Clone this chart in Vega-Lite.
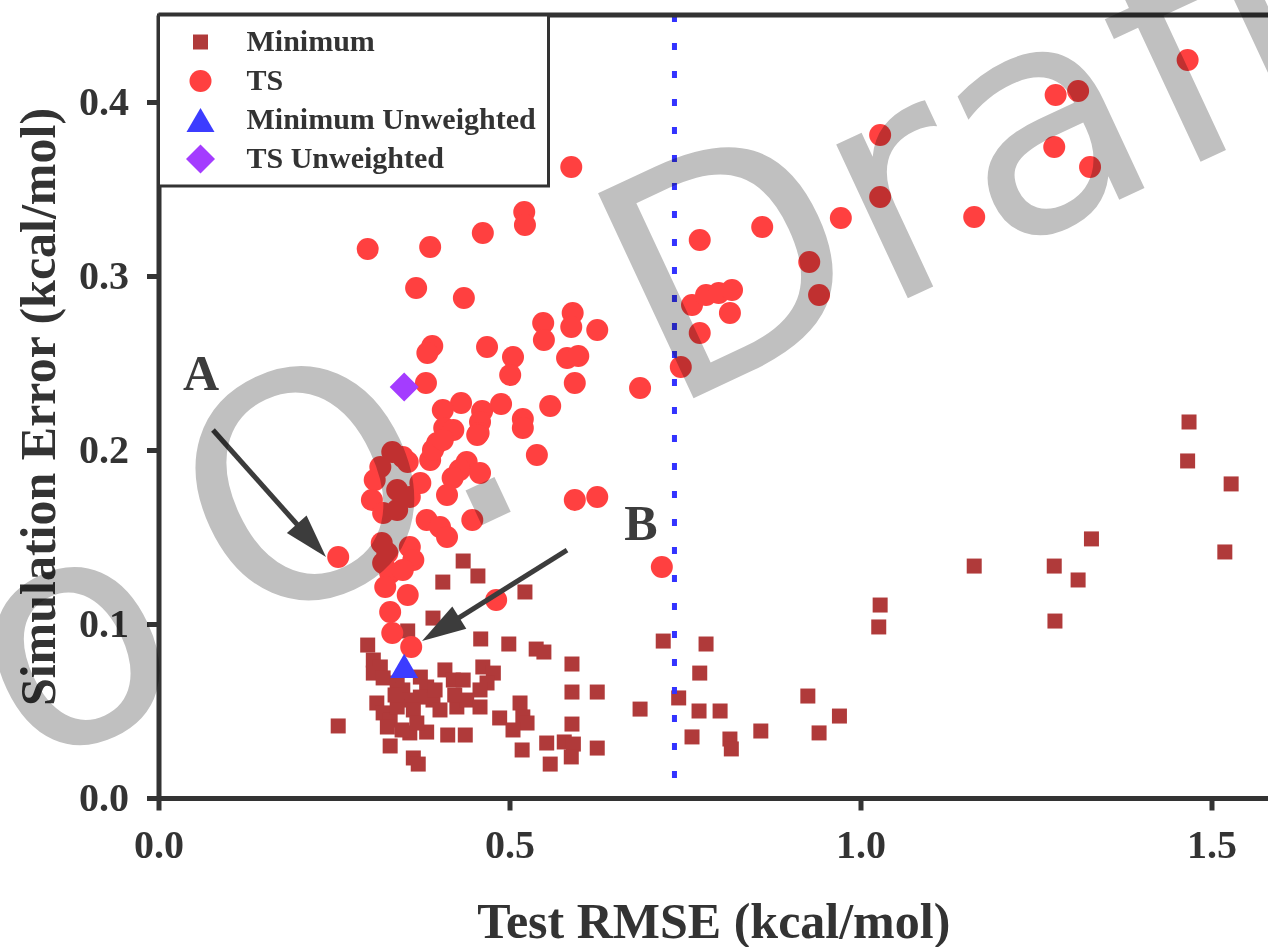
{
  "$schema": "https://vega.github.io/schema/vega-lite/v6.json",
  "width": 1109.5,
  "height": 783,
  "autosize": {"type": "none"},
  "padding": {"left": 158.5, "top": 15, "right": 0, "bottom": 149},
  "background": "white",
  "config": {
    "view": {"stroke": null},
    "font": "Liberation Serif",
    "legend": {
      "title": null,
      "orient": "top-left",
      "offset": 0,
      "padding": 12,
      "symbolOffset": 15,
      "labelOffset": 31,
      "rowPadding": 9,
      "labelLimit": 0,
      "labelFont": "Liberation Serif",
      "labelFontWeight": "bold",
      "labelFontSize": 30,
      "labelColor": "#333333",
      "strokeColor": "#333333",
      "fillColor": "white",
      "symbolStrokeWidth": 0,
      "symbolOpacity": 1
    }
  },
  "datasets": {
    "pts": [
      {"type": "Minimum", "x": 0.434, "y": 0.1362},
      {"type": "Minimum", "x": 0.455, "y": 0.1276},
      {"type": "Minimum", "x": 0.405, "y": 0.1241},
      {"type": "Minimum", "x": 0.522, "y": 0.1184},
      {"type": "Minimum", "x": 0.391, "y": 0.1034},
      {"type": "Minimum", "x": 0.355, "y": 0.096},
      {"type": "Minimum", "x": 0.298, "y": 0.0879},
      {"type": "Minimum", "x": 0.459, "y": 0.0914},
      {"type": "Minimum", "x": 0.499, "y": 0.0885},
      {"type": "Minimum", "x": 0.538, "y": 0.0856},
      {"type": "Minimum", "x": 0.549, "y": 0.0839},
      {"type": "Minimum", "x": 0.589, "y": 0.077},
      {"type": "Minimum", "x": 0.306, "y": 0.0793},
      {"type": "Minimum", "x": 0.316, "y": 0.0753},
      {"type": "Minimum", "x": 0.306, "y": 0.0718},
      {"type": "Minimum", "x": 0.32, "y": 0.069},
      {"type": "Minimum", "x": 0.34, "y": 0.0661},
      {"type": "Minimum", "x": 0.348, "y": 0.0621},
      {"type": "Minimum", "x": 0.373, "y": 0.0695},
      {"type": "Minimum", "x": 0.382, "y": 0.0638},
      {"type": "Minimum", "x": 0.408, "y": 0.0736},
      {"type": "Minimum", "x": 0.42, "y": 0.0678},
      {"type": "Minimum", "x": 0.434, "y": 0.0678},
      {"type": "Minimum", "x": 0.462, "y": 0.0753},
      {"type": "Minimum", "x": 0.477, "y": 0.0718},
      {"type": "Minimum", "x": 0.468, "y": 0.0661},
      {"type": "Minimum", "x": 0.458, "y": 0.0621},
      {"type": "Minimum", "x": 0.354, "y": 0.0563},
      {"type": "Minimum", "x": 0.373, "y": 0.058},
      {"type": "Minimum", "x": 0.391, "y": 0.0563},
      {"type": "Minimum", "x": 0.311, "y": 0.0546},
      {"type": "Minimum", "x": 0.32, "y": 0.0489},
      {"type": "Minimum", "x": 0.33, "y": 0.0448},
      {"type": "Minimum", "x": 0.34, "y": 0.0523},
      {"type": "Minimum", "x": 0.363, "y": 0.0506},
      {"type": "Minimum", "x": 0.401, "y": 0.0506},
      {"type": "Minimum", "x": 0.425, "y": 0.0523},
      {"type": "Minimum", "x": 0.439, "y": 0.0563},
      {"type": "Minimum", "x": 0.458, "y": 0.0523},
      {"type": "Minimum", "x": 0.358, "y": 0.0374},
      {"type": "Minimum", "x": 0.382, "y": 0.0379},
      {"type": "Minimum", "x": 0.368, "y": 0.0431},
      {"type": "Minimum", "x": 0.412, "y": 0.0362},
      {"type": "Minimum", "x": 0.437, "y": 0.0362},
      {"type": "Minimum", "x": 0.486, "y": 0.046},
      {"type": "Minimum", "x": 0.515, "y": 0.0546},
      {"type": "Minimum", "x": 0.519, "y": 0.0466},
      {"type": "Minimum", "x": 0.525, "y": 0.0431},
      {"type": "Minimum", "x": 0.505, "y": 0.0391},
      {"type": "Minimum", "x": 0.589, "y": 0.0609},
      {"type": "Minimum", "x": 0.625, "y": 0.0609},
      {"type": "Minimum", "x": 0.589, "y": 0.0425},
      {"type": "Minimum", "x": 0.686, "y": 0.0511},
      {"type": "Minimum", "x": 0.256, "y": 0.0414},
      {"type": "Minimum", "x": 0.33, "y": 0.0299},
      {"type": "Minimum", "x": 0.363, "y": 0.023},
      {"type": "Minimum", "x": 0.37, "y": 0.0195},
      {"type": "Minimum", "x": 0.518, "y": 0.0276},
      {"type": "Minimum", "x": 0.553, "y": 0.0316},
      {"type": "Minimum", "x": 0.578, "y": 0.0322},
      {"type": "Minimum", "x": 0.591, "y": 0.031},
      {"type": "Minimum", "x": 0.588, "y": 0.0236},
      {"type": "Minimum", "x": 0.558, "y": 0.0195},
      {"type": "Minimum", "x": 0.625, "y": 0.0287},
      {"type": "Minimum", "x": 0.326, "y": 0.0408},
      {"type": "Minimum", "x": 0.347, "y": 0.0391},
      {"type": "Minimum", "x": 0.394, "y": 0.0621},
      {"type": "Minimum", "x": 0.422, "y": 0.0592},
      {"type": "Minimum", "x": 0.337, "y": 0.0592},
      {"type": "Minimum", "x": 0.719, "y": 0.0902},
      {"type": "Minimum", "x": 0.78, "y": 0.0885},
      {"type": "Minimum", "x": 0.771, "y": 0.0718},
      {"type": "Minimum", "x": 0.741, "y": 0.0575},
      {"type": "Minimum", "x": 0.77, "y": 0.05},
      {"type": "Minimum", "x": 0.8, "y": 0.05},
      {"type": "Minimum", "x": 0.76, "y": 0.0351},
      {"type": "Minimum", "x": 0.814, "y": 0.0339},
      {"type": "Minimum", "x": 0.816, "y": 0.0282},
      {"type": "Minimum", "x": 0.858, "y": 0.0385},
      {"type": "Minimum", "x": 0.925, "y": 0.0586},
      {"type": "Minimum", "x": 0.941, "y": 0.0374},
      {"type": "Minimum", "x": 0.97, "y": 0.0471},
      {"type": "Minimum", "x": 1.028, "y": 0.1109},
      {"type": "Minimum", "x": 1.026, "y": 0.0983},
      {"type": "Minimum", "x": 1.162, "y": 0.1333},
      {"type": "Minimum", "x": 1.276, "y": 0.1333},
      {"type": "Minimum", "x": 1.31, "y": 0.1253},
      {"type": "Minimum", "x": 1.277, "y": 0.1017},
      {"type": "Minimum", "x": 1.329, "y": 0.1489},
      {"type": "Minimum", "x": 1.468, "y": 0.2161},
      {"type": "Minimum", "x": 1.466, "y": 0.1937},
      {"type": "Minimum", "x": 1.528, "y": 0.1805},
      {"type": "Minimum", "x": 1.519, "y": 0.1414},
      {"type": "TS", "x": 0.298, "y": 0.3155},
      {"type": "TS", "x": 0.387, "y": 0.3167},
      {"type": "TS", "x": 0.462, "y": 0.3247},
      {"type": "TS", "x": 0.521, "y": 0.3368},
      {"type": "TS", "x": 0.522, "y": 0.3293},
      {"type": "TS", "x": 0.588, "y": 0.3626},
      {"type": "TS", "x": 0.367, "y": 0.2931},
      {"type": "TS", "x": 0.435, "y": 0.2874},
      {"type": "TS", "x": 0.39, "y": 0.2598},
      {"type": "TS", "x": 0.383, "y": 0.2557},
      {"type": "TS", "x": 0.468, "y": 0.2592},
      {"type": "TS", "x": 0.505, "y": 0.2534},
      {"type": "TS", "x": 0.501, "y": 0.2431},
      {"type": "TS", "x": 0.548, "y": 0.273},
      {"type": "TS", "x": 0.549, "y": 0.2632},
      {"type": "TS", "x": 0.59, "y": 0.2787},
      {"type": "TS", "x": 0.588, "y": 0.2707},
      {"type": "TS", "x": 0.625, "y": 0.269},
      {"type": "TS", "x": 0.582, "y": 0.2529},
      {"type": "TS", "x": 0.598, "y": 0.254},
      {"type": "TS", "x": 0.593, "y": 0.2385},
      {"type": "TS", "x": 0.686, "y": 0.2356},
      {"type": "TS", "x": 0.381, "y": 0.2385},
      {"type": "TS", "x": 0.431, "y": 0.227},
      {"type": "TS", "x": 0.405, "y": 0.223},
      {"type": "TS", "x": 0.461, "y": 0.2224},
      {"type": "TS", "x": 0.458, "y": 0.2161},
      {"type": "TS", "x": 0.456, "y": 0.2098},
      {"type": "TS", "x": 0.488, "y": 0.2264},
      {"type": "TS", "x": 0.519, "y": 0.2178},
      {"type": "TS", "x": 0.519, "y": 0.2126},
      {"type": "TS", "x": 0.558, "y": 0.2253},
      {"type": "TS", "x": 0.539, "y": 0.1971},
      {"type": "TS", "x": 0.407, "y": 0.2126},
      {"type": "TS", "x": 0.42, "y": 0.2115},
      {"type": "TS", "x": 0.397, "y": 0.204},
      {"type": "TS", "x": 0.439, "y": 0.1931},
      {"type": "TS", "x": 0.429, "y": 0.1885},
      {"type": "TS", "x": 0.419, "y": 0.1839},
      {"type": "TS", "x": 0.411, "y": 0.1741},
      {"type": "TS", "x": 0.447, "y": 0.1598},
      {"type": "TS", "x": 0.333, "y": 0.1989},
      {"type": "TS", "x": 0.355, "y": 0.1931},
      {"type": "TS", "x": 0.348, "y": 0.196},
      {"type": "TS", "x": 0.316, "y": 0.1902},
      {"type": "TS", "x": 0.308, "y": 0.1828},
      {"type": "TS", "x": 0.304, "y": 0.1713},
      {"type": "TS", "x": 0.34, "y": 0.177},
      {"type": "TS", "x": 0.358, "y": 0.173},
      {"type": "TS", "x": 0.34, "y": 0.1655},
      {"type": "TS", "x": 0.373, "y": 0.181},
      {"type": "TS", "x": 0.32, "y": 0.1638},
      {"type": "TS", "x": 0.387, "y": 0.1943},
      {"type": "TS", "x": 0.391, "y": 0.2},
      {"type": "TS", "x": 0.405, "y": 0.2057},
      {"type": "TS", "x": 0.454, "y": 0.2086},
      {"type": "TS", "x": 0.458, "y": 0.1868},
      {"type": "TS", "x": 0.382, "y": 0.1598},
      {"type": "TS", "x": 0.401, "y": 0.1557},
      {"type": "TS", "x": 0.411, "y": 0.15},
      {"type": "TS", "x": 0.318, "y": 0.1466},
      {"type": "TS", "x": 0.326, "y": 0.1408},
      {"type": "TS", "x": 0.32, "y": 0.1351},
      {"type": "TS", "x": 0.33, "y": 0.1293},
      {"type": "TS", "x": 0.358, "y": 0.1443},
      {"type": "TS", "x": 0.363, "y": 0.1368},
      {"type": "TS", "x": 0.348, "y": 0.131},
      {"type": "TS", "x": 0.256, "y": 0.1385},
      {"type": "TS", "x": 0.323, "y": 0.1213},
      {"type": "TS", "x": 0.355, "y": 0.1167},
      {"type": "TS", "x": 0.33, "y": 0.1069},
      {"type": "TS", "x": 0.333, "y": 0.0948},
      {"type": "TS", "x": 0.36, "y": 0.0868},
      {"type": "TS", "x": 0.481, "y": 0.1138},
      {"type": "TS", "x": 0.593, "y": 0.1713},
      {"type": "TS", "x": 0.625, "y": 0.173},
      {"type": "TS", "x": 0.717, "y": 0.1328},
      {"type": "TS", "x": 0.744, "y": 0.2477},
      {"type": "TS", "x": 0.771, "y": 0.2672},
      {"type": "TS", "x": 0.76, "y": 0.2833},
      {"type": "TS", "x": 0.78, "y": 0.2891},
      {"type": "TS", "x": 0.798, "y": 0.2902},
      {"type": "TS", "x": 0.817, "y": 0.292},
      {"type": "TS", "x": 0.814, "y": 0.2787},
      {"type": "TS", "x": 0.771, "y": 0.3207},
      {"type": "TS", "x": 0.86, "y": 0.3282},
      {"type": "TS", "x": 0.927, "y": 0.308},
      {"type": "TS", "x": 0.941, "y": 0.2891},
      {"type": "TS", "x": 0.972, "y": 0.3333},
      {"type": "TS", "x": 1.028, "y": 0.381},
      {"type": "TS", "x": 1.028, "y": 0.3454},
      {"type": "TS", "x": 1.162, "y": 0.3339},
      {"type": "TS", "x": 1.278, "y": 0.404},
      {"type": "TS", "x": 1.31, "y": 0.4063},
      {"type": "TS", "x": 1.276, "y": 0.3741},
      {"type": "TS", "x": 1.327, "y": 0.3626},
      {"type": "TS", "x": 1.466, "y": 0.4241},
      {"type": "Minimum Unweighted", "x": 0.35, "y": 0.0759},
      {"type": "TS Unweighted", "x": 0.35, "y": 0.2362}
    ],
    "arrows": [
      {"label": "A", "x_tail": 0.0776, "y_tail": 0.2115, "x_end": 0.215, "y_end": 0.1493, "x_tip": 0.2386, "y_tip": 0.1385},
      {"label": "B", "x_tail": 0.5819, "y_tail": 0.1425, "x_end": 0.4056, "y_end": 0.0979, "x_tip": 0.3754, "y_tip": 0.0902}
    ],
    "labels": [
      {"text": "A", "x": 0.0605, "y": 0.2431},
      {"text": "B", "x": 0.6873, "y": 0.1569}
    ],
    "watermark": [
      {"text": "o", "x": -0.1873, "y": 0.0144},
      {"text": "O.", "x": 0.1189, "y": 0.0925},
      {"text": "Draft", "x": 0.7229, "y": 0.2224}
    ]
  },
  "layer": [
    {
      "data": {"name": "pts"},
      "mark": {"type": "point", "filled": true, "opacity": 1, "strokeWidth": 0},
      "encoding": {
        "x": {
          "field": "x", "type": "quantitative", "title": "Test RMSE (kcal/mol)",
          "scale": {"domain": [0, 1.5805], "nice": false, "zero": false},
          "axis": {
            "values": [0, 0.5, 1, 1.5], "format": ".1f",
            "grid": false, "domainColor": "#333333", "domainWidth": 5,
            "tickColor": "#333333", "tickWidth": 5, "tickSize": 12,
            "labelFont": "Liberation Serif", "labelFontWeight": "bold", "labelFontSize": 40,
            "labelColor": "#333333", "labelPadding": 15, "labelFlush": false, "labelOverlap": false,
            "titleFont": "Liberation Serif", "titleFontWeight": "bold", "titleFontSize": 50,
            "titleColor": "#333333", "titleY": 139, "titleBaseline": "alphabetic"
          }
        },
        "y": {
          "field": "y", "type": "quantitative", "title": "Simulation Error (kcal/mol)",
          "scale": {"domain": [0, 0.45], "nice": false, "zero": false},
          "axis": {
            "values": [0, 0.1, 0.2, 0.3, 0.4], "format": ".1f",
            "grid": false, "domainColor": "#333333", "domainWidth": 5,
            "tickColor": "#333333", "tickWidth": 5, "tickSize": 12,
            "labelFont": "Liberation Serif", "labelFontWeight": "bold", "labelFontSize": 40,
            "labelColor": "#333333", "labelPadding": 18, "labelFlush": false, "labelOverlap": false,
            "titleFont": "Liberation Serif", "titleFontWeight": "bold", "titleFontSize": 50,
            "titleColor": "#333333", "titleX": -104.5, "titleY": 391.5,
            "titleBaseline": "alphabetic", "titleAlign": "center", "titleAngle": -90
          }
        },
        "color": {
          "field": "type", "type": "nominal",
          "scale": {"domain": ["Minimum", "TS", "Minimum Unweighted", "TS Unweighted"],
                    "range": ["#b03a3a", "#ff4040", "#3c3cff", "#a43cff"]},
          "legend": {"title": null, "encode": {"legend": {"update": {"strokeWidth": {"value": 3}}}}}
        },
        "shape": {
          "field": "type", "type": "nominal",
          "scale": {"domain": ["Minimum", "TS", "Minimum Unweighted", "TS Unweighted"],
                    "range": ["square", "circle", "triangle-up", "diamond"]},
          "legend": {"title": null}
        },
        "size": {
          "field": "type", "type": "nominal",
          "scale": {"type": "ordinal", "domain": ["Minimum", "TS", "Minimum Unweighted", "TS Unweighted"],
                    "range": [225, 484, 784, 841]},
          "legend": {"title": null}
        }
      }
    },
    {
      "data": {"values": [{"x": 0.735}]},
      "mark": {"type": "rule", "color": "#3333ff", "strokeWidth": 5, "strokeDash": [7, 21]},
      "encoding": {"x": {"field": "x", "type": "quantitative", "title": "Test RMSE (kcal/mol)"}}
    },
    {
      "data": {"values": [{"y": 0.45}]},
      "mark": {"type": "rule", "color": "#333333", "strokeWidth": 5},
      "encoding": {"y": {"field": "y", "type": "quantitative", "title": "Simulation Error (kcal/mol)"}}
    },
    {
      "data": {"name": "arrows"},
      "mark": {"type": "rule", "color": "#3c3c3c", "strokeWidth": 5, "strokeCap": "butt"},
      "encoding": {
        "x": {"field": "x_tail", "type": "quantitative", "title": "Test RMSE (kcal/mol)"},
        "y": {"field": "y_tail", "type": "quantitative", "title": "Simulation Error (kcal/mol)"},
        "x2": {"field": "x_end"},
        "y2": {"field": "y_end"}
      }
    },
    {
      "data": {"name": "arrows"},
      "transform": [{"filter": "datum.label === 'A'"}],
      "mark": {"type": "point", "shape": "M0,0L-0.3,1L0.3,1Z", "size": 7744, "angle": 138.3, "filled": true, "opacity": 1, "color": "#3c3c3c", "strokeWidth": 0},
      "encoding": {
        "x": {"field": "x_tip", "type": "quantitative", "title": "Test RMSE (kcal/mol)"},
        "y": {"field": "y_tip", "type": "quantitative", "title": "Simulation Error (kcal/mol)"}
      }
    },
    {
      "data": {"name": "arrows"},
      "transform": [{"filter": "datum.label === 'B'"}],
      "mark": {"type": "point", "shape": "M0,0L-0.3,1L0.3,1Z", "size": 7744, "angle": 237.9, "filled": true, "opacity": 1, "color": "#3c3c3c", "strokeWidth": 0},
      "encoding": {
        "x": {"field": "x_tip", "type": "quantitative", "title": "Test RMSE (kcal/mol)"},
        "y": {"field": "y_tip", "type": "quantitative", "title": "Simulation Error (kcal/mol)"}
      }
    },
    {
      "data": {"name": "labels"},
      "mark": {"type": "text", "font": "Liberation Serif", "fontWeight": "bold", "fontSize": 50, "color": "#3c3c3c", "align": "center", "baseline": "middle"},
      "encoding": {
        "x": {"field": "x", "type": "quantitative", "title": "Test RMSE (kcal/mol)"},
        "y": {"field": "y", "type": "quantitative", "title": "Simulation Error (kcal/mol)"},
        "text": {"field": "text"}
      }
    },
    {
      "data": {"name": "watermark"},
      "mark": {"type": "text", "font": "DejaVu Sans", "fontSize": 310, "angle": -25, "color": "#c0c0c0", "blend": "multiply", "align": "left", "baseline": "alphabetic"},
      "encoding": {
        "x": {"field": "x", "type": "quantitative", "title": "Test RMSE (kcal/mol)"},
        "y": {"field": "y", "type": "quantitative", "title": "Simulation Error (kcal/mol)"},
        "text": {"field": "text"}
      }
    }
  ]
}
